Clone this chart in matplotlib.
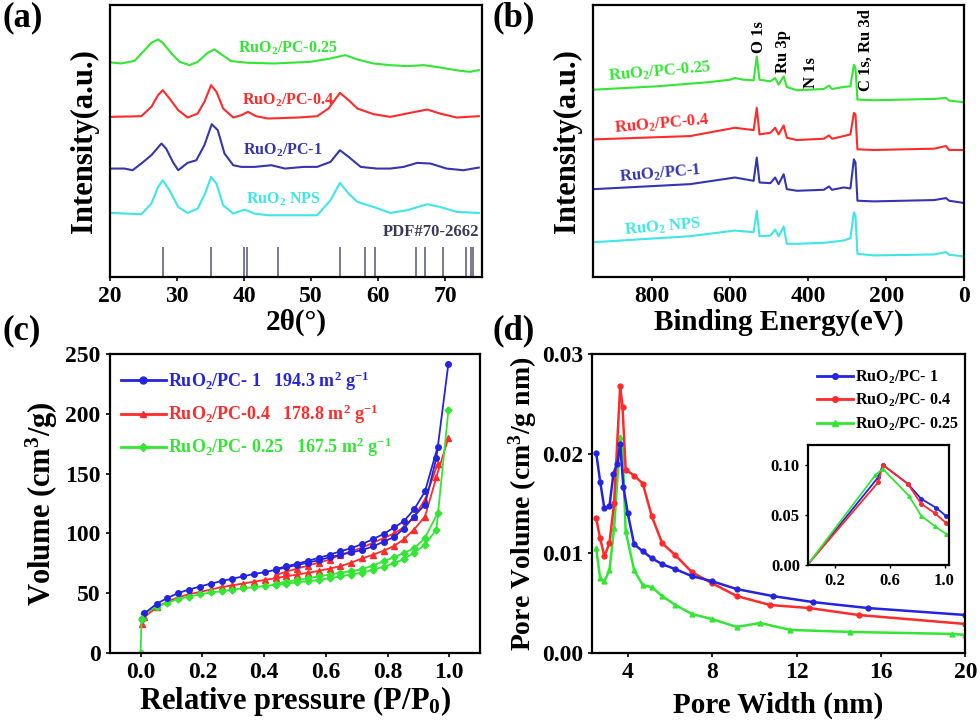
import matplotlib
matplotlib.use("Agg")
import matplotlib.pyplot as plt
from matplotlib.lines import Line2D

plt.rcParams['font.family'] = ['Liberation Serif', 'DejaVu Serif']
plt.rcParams['font.weight'] = 'bold'
plt.rcParams['axes.labelweight'] = 'bold'
plt.rcParams['mathtext.fontset'] = 'custom'
plt.rcParams['mathtext.rm'] = 'Liberation Serif:bold'
plt.rcParams['mathtext.it'] = 'Liberation Serif:bold:italic'
plt.rcParams['mathtext.bf'] = 'Liberation Serif:bold'
plt.rcParams['mathtext.default'] = 'rm'
plt.rcParams['axes.linewidth'] = 1.6
plt.rcParams['lines.solid_joinstyle'] = 'round'

# ---------------- data (a) XRD ----------------
xrd_g_x = [20.2, 21.7, 23.7, 25.2, 26.2, 27.2, 27.9, 29.2, 30.4, 31.9, 33.1, 34.6, 35.6, 36.6, 38.1, 40.6, 44.6, 49.9, 52.9, 55.1, 56.9, 59.3, 61.8, 64.3, 66.8, 69.2, 72.2, 73.7, 75.0]
xrd_g_y = [643, 640, 648, 680, 702, 712, 702, 670, 645, 635, 645, 672, 682, 668, 647, 642, 640, 645, 655, 665, 652, 640, 635, 632, 635, 628, 618, 615, 620]
xrd_r_x = [20.2, 24.7, 26.2, 27.2, 27.9, 28.9, 30.2, 31.6, 33.1, 34.1, 35.1, 35.9, 36.9, 38.4, 39.6, 40.6, 41.8, 43.6, 48.1, 50.9, 52.6, 54.3, 55.6, 56.9, 59.3, 61.8, 64.3, 67.3, 69.2, 71.7, 75.0]
xrd_r_y = [480, 482, 510, 545, 560, 535, 500, 478, 490, 525, 575, 555, 505, 478, 485, 495, 482, 475, 478, 482, 505, 552, 530, 505, 488, 480, 490, 502, 490, 478, 482]
xrd_b_x = [20.2, 22.2, 23.4, 24.7, 26.2, 27.7, 28.4, 29.4, 30.2, 31.6, 32.9, 34.1, 35.2, 36.1, 37.1, 38.4, 39.6, 41.6, 44.1, 46.1, 48.9, 50.9, 52.9, 54.3, 55.6, 57.4, 59.8, 61.8, 63.8, 65.8, 67.8, 70.2, 72.7, 75.0]
xrd_b_y = [325, 325, 320, 340, 365, 400, 385, 345, 320, 342, 350, 395, 458, 440, 370, 335, 330, 330, 335, 325, 330, 330, 345, 380, 360, 330, 325, 325, 330, 342, 340, 325, 320, 328]
xrd_c_x = [20.2, 24.7, 26.2, 27.2, 27.9, 28.9, 30.2, 31.6, 33.1, 34.2, 35.1, 35.9, 36.9, 38.4, 40.1, 41.6, 43.6, 48.1, 50.9, 52.9, 54.3, 55.6, 56.9, 59.3, 61.8, 64.3, 67.3, 69.2, 71.7, 75.0]
xrd_c_y = [192, 188, 220, 270, 290, 260, 210, 192, 205, 250, 300, 280, 215, 190, 202, 190, 185, 185, 185, 230, 282, 250, 225, 210, 192, 200, 218, 210, 195, 192]
pdf_x = [28.0, 35.1, 40.0, 40.5, 45.0, 54.3, 58.0, 59.5, 65.6, 67.0, 69.6, 73.1, 73.8, 74.2]
pdf_h = [90] * len(pdf_x)
xrd_ticks = [20, 30, 40, 50, 60, 70]

# ---------------- data (b) XPS ----------------
xps_g_x = [948, 789, 660, 600, 588, 566, 540, 532, 525, 497, 485, 476, 463, 455, 429, 360, 347, 339, 309, 292, 283, 279, 274, 232, 77, 47, 39, 0]
xps_g_y = [565, 575, 587, 595, 600, 595, 593, 665, 595, 590, 600, 580, 605, 573, 563, 567, 577, 567, 573, 575, 640, 630, 535, 533, 537, 540, 532, 527]
xps_r_x = [948, 703, 588, 540, 532, 525, 497, 485, 476, 463, 455, 429, 360, 347, 339, 309, 292, 283, 279, 274, 232, 77, 47, 39, 0]
xps_r_y = [415, 425, 450, 443, 510, 430, 435, 450, 430, 457, 420, 413, 417, 427, 417, 425, 430, 495, 490, 385, 383, 387, 395, 383, 383]
xps_b_x = [948, 703, 588, 540, 532, 525, 497, 485, 476, 463, 455, 429, 360, 347, 339, 309, 292, 283, 279, 274, 232, 77, 47, 39, 0]
xps_b_y = [265, 280, 300, 290, 360, 285, 283, 300, 280, 310, 265, 260, 263, 273, 263, 270, 267, 355, 345, 230, 228, 232, 238, 230, 223]
xps_c_x = [948, 703, 588, 540, 532, 525, 497, 485, 476, 463, 455, 429, 360, 309, 292, 283, 279, 274, 232, 77, 47, 39, 0]
xps_c_y = [105, 123, 140, 135, 200, 123, 125, 143, 123, 152, 100, 100, 103, 110, 117, 195, 185, 70, 65, 68, 75, 67, 62]
xps_ticks = [800, 600, 400, 200, 0]

# ---------------- data (c) isotherms ----------------
ads_x = [0.003, 0.012, 0.052, 0.087, 0.122, 0.157, 0.193, 0.228, 0.262, 0.297, 0.332, 0.367, 0.402, 0.437, 0.472, 0.507, 0.542, 0.577, 0.612, 0.647, 0.682, 0.717, 0.752, 0.787, 0.822, 0.852, 0.885, 0.921, 0.958, 0.997]
des_x = [0.962, 0.921, 0.886, 0.852, 0.822, 0.787, 0.752, 0.717, 0.682, 0.647, 0.612, 0.577, 0.542, 0.507, 0.472, 0.437]
pc1_ads = [28, 33, 41, 46, 50, 53, 55.5, 58, 60, 62, 64, 66, 67.5, 69.5, 71.5, 73.5, 75.5, 77.5, 80, 82, 84, 86, 89, 93, 97, 104, 114, 124, 163, 242]
pc1_des = [172, 135, 120, 110, 105, 99.5, 95, 91, 87.5, 85, 82, 79.5, 77, 74.5, 72.5, 70]
pc04_ads = [24, 30, 38, 43, 46.5, 49, 51, 53, 55, 56.5, 58, 59.5, 61, 62.5, 64, 65.5, 67, 68.5, 70.5, 72.5, 75.5, 79, 82, 85.5, 89.5, 95, 103, 114, 147, 180]
pc04_des = [158, 128, 114, 105, 100, 96, 92, 88, 85, 82, 78, 75.5, 73, 70.5, 68, 65]
pc025_ads = [28, 33, 38.5, 42, 45, 47, 49, 50.5, 51.5, 53, 54, 55, 56, 57, 58, 59, 60, 61, 62.5, 64, 65.5, 67, 69.5, 72, 75, 78.5, 83.5, 90.5, 103, 203]
pc025_des = [117, 96, 87.5, 83.5, 80, 76.5, 73, 70, 68.5, 67, 65.5, 64, 62.5, 61, 59.5, 58]
bet_labels = ["RuO$_2$/PC- 1   194.3 m$^2$ g$^{-1}$",
              "RuO$_2$/PC-0.4   178.8 m$^2$ g$^{-1}$",
              "RuO$_2$/PC- 0.25   167.5 m$^2$ g$^{-1}$"]
bet_xticks = ['0.0', '0.2', '0.4', '0.6', '0.8', '1.0']
bet_yticks = ['0', '50', '100', '150', '200', '250']

# ---------------- data (d) pore distribution ----------------
psd_b_x = [2.5, 2.69, 2.89, 3.13, 3.32, 3.5, 3.64, 3.79, 4.0, 4.3, 4.71, 5.14, 5.63, 6.26, 7.04, 7.98, 9.17, 10.88, 12.77, 15.37, 20.0]
psd_b_y = [0.0201, 0.0172, 0.0145, 0.0147, 0.018, 0.019, 0.021, 0.0167, 0.014, 0.0109, 0.0102, 0.0095, 0.0089, 0.0084, 0.0077, 0.0072, 0.0064, 0.0057, 0.0051, 0.0045, 0.0038]
psd_r_x = [2.5, 2.69, 2.89, 3.13, 3.35, 3.64, 3.75, 3.9, 4.3, 4.71, 5.14, 5.63, 6.26, 7.04, 7.98, 9.17, 10.75, 12.6, 14.94, 20.0]
psd_r_y = [0.0135, 0.0115, 0.0097, 0.011, 0.015, 0.0268, 0.0247, 0.0184, 0.0178, 0.017, 0.0137, 0.011, 0.0098, 0.0081, 0.007, 0.0057, 0.0048, 0.0045, 0.0038, 0.0029]
psd_g_x = [2.5, 2.69, 2.89, 3.13, 3.35, 3.64, 3.75, 3.9, 4.3, 4.71, 5.14, 5.63, 6.26, 7.04, 7.98, 9.17, 10.28, 11.7, 14.55, 19.37, 20.0]
psd_g_y = [0.0105, 0.0075, 0.0072, 0.0083, 0.0125, 0.0217, 0.0204, 0.0122, 0.0083, 0.0068, 0.0066, 0.0057, 0.0048, 0.0039, 0.0034, 0.0026, 0.003, 0.0023, 0.0021, 0.0019, 0.0018]
ins_b_x = [0.0, 0.515, 0.55, 0.733, 0.83, 0.94, 1.01]
ins_b_y = [0.0, 0.0875, 0.1, 0.081, 0.066, 0.057, 0.049]
ins_r_x = [0.0, 0.515, 0.55, 0.733, 0.83, 0.927, 1.01]
ins_r_y = [0.0, 0.0825, 0.1, 0.081, 0.061, 0.052, 0.042]
ins_g_x = [0.0, 0.496, 0.55, 0.74, 0.83, 0.927, 1.01]
ins_g_y = [0.0, 0.09, 0.096, 0.069, 0.049, 0.039, 0.031]
psd_labels = ["RuO$_2$/PC- 1", "RuO$_2$/PC- 0.4", "RuO$_2$/PC- 0.25"]
psd_xticks = ['4', '8', '12', '16', '20']
psd_yticks = ['0.00', '0.01', '0.02', '0.03']
ins_xticks = ['0.2', '0.6', '1.0']
ins_yticks = ['0.00', '0.05', '0.10']

GREEN = '#33e633'
RED = '#ff2a2a'
NAVY = '#3535b0'
CYAN = '#40e6e6'
BLUE = '#2424e0'

fig = plt.figure(figsize=(9.8, 7.27), dpi=100)

TICK_FS = 17
BOLD = dict(fontweight='bold', family='Liberation Serif')

# ---------- (a) ----------
ax = fig.add_axes([0.112, 0.619, 0.380, 0.374])
lw = 1.5
ax.plot(xrd_g_x, xrd_g_y, color=GREEN, lw=lw)
ax.plot(xrd_r_x, xrd_r_y, color=RED, lw=lw)
ax.plot(xrd_b_x, xrd_b_y, color=NAVY, lw=lw)
ax.plot(xrd_c_x, xrd_c_y, color=CYAN, lw=lw)
ax.vlines(pdf_x, 0, pdf_h, color='#6e6e8e', lw=1.3)
ax.axhline(1, color='#6a6ad0', lw=1.0)
ax.text(75, 112, 'PDF#70-2662', color='#3a3a55', fontsize=12, ha='right', va='bottom')
ax.text(46.6, 685, 'RuO$_2$/PC-0.25', color=GREEN, fontsize=11.5, ha='center', va='center')
ax.text(46.6, 530, 'RuO$_2$/PC-0.4', color=RED, fontsize=11.5, ha='center', va='center')
ax.text(45.8, 380, 'RuO$_2$/PC-1', color=NAVY, fontsize=11.5, ha='center', va='center')
ax.text(45.8, 232, 'RuO$_2$ NPS', color=CYAN, fontsize=11.5, ha='center', va='center')
ax.set_xlim(20, 75.5)
ax.set_ylim(0, 815)
ax.set_xticks(xrd_ticks, [str(t) for t in xrd_ticks], fontsize=TICK_FS, **BOLD)
ax.set_yticks([])
ax.tick_params(axis='x', direction='out', length=3, width=1.2)
ax.set_xlabel('2θ(°)', fontsize=21, labelpad=1)
ax.set_ylabel('Intensity(a.u.)', fontsize=22, labelpad=8)

# ---------- (b) ----------
ax = fig.add_axes([0.605, 0.619, 0.379, 0.374])
ax.plot(xps_g_x, xps_g_y, color=GREEN, lw=lw)
ax.plot(xps_r_x, xps_r_y, color=RED, lw=lw)
ax.plot(xps_b_x, xps_b_y, color=NAVY, lw=lw)
ax.plot(xps_c_x, xps_c_y, color=CYAN, lw=lw)
ax.text(780, 618, 'RuO$_2$/PC-0.25', color=GREEN, fontsize=12, ha='center', va='center', rotation=5)
ax.text(776, 462, 'RuO$_2$/PC-0.4', color=RED, fontsize=12, ha='center', va='center', rotation=5)
ax.text(780, 310, 'RuO$_2$/PC-1', color=NAVY, fontsize=12, ha='center', va='center', rotation=5)
ax.text(772, 152, 'RuO$_2$ NPS', color=CYAN, fontsize=12, ha='center', va='center', rotation=5)
ax.text(527, 723, 'O 1s', rotation=90, fontsize=12, ha='center', va='center', color='black')
ax.text(465, 680, 'Ru 3p', rotation=90, fontsize=12, ha='center', va='center', color='black')
ax.text(394, 617, 'N 1s', rotation=90, fontsize=12, ha='center', va='center', color='black')
ax.text(253, 685, 'C 1s, Ru 3d', rotation=90, fontsize=12, ha='center', va='center', color='black')
ax.set_xlim(952, 0)
ax.set_ylim(0, 820)
ax.set_xticks(xps_ticks, [str(t) for t in xps_ticks], fontsize=TICK_FS, **BOLD)
ax.set_yticks([])
ax.tick_params(axis='x', direction='out', length=3, width=1.2)
ax.set_xlabel('Binding Energy(eV)', fontsize=21, labelpad=1)
ax.set_ylabel('Intensity(a.u.)', fontsize=22, labelpad=8)

# ---------- (c) ----------
ax = fig.add_axes([0.112, 0.102, 0.378, 0.411])
series_c = [(pc04_ads, pc04_des, RED, '^'), (pc025_ads, pc025_des, GREEN, 'D'), (pc1_ads, pc1_des, BLUE, 'o')]
for ads, des, col, mk in series_c:
    ms = 3.5 if mk == 'D' else 4
    ax.plot(ads_x, ads, color=col, marker=mk, ms=ms, lw=1.3)
    ax.plot(des_x, des, color=col, marker=mk, ms=ms, lw=1.3)
ax.plot([0.0, ads_x[0]], [0, pc025_ads[0]], color=GREEN, marker='D', ms=3.5, lw=1.3)
leg_handles = [Line2D([], [], color=BLUE, marker='o', ms=5, lw=2),
               Line2D([], [], color=RED, marker='^', ms=5, lw=2),
               Line2D([], [], color=GREEN, marker='D', ms=4.5, lw=2)]
leg = ax.legend(leg_handles, bet_labels, loc='upper left', frameon=False, fontsize=13,
                handlelength=2.5, handletextpad=0.1, labelspacing=0.55,
                borderaxespad=0.2, bbox_to_anchor=(0.0, 0.985))
for t, c in zip(leg.get_texts(), [BLUE, RED, GREEN]):
    t.set_color(c)
ax.set_xlim(-0.1, 1.1)
ax.set_ylim(0, 250)
ax.set_xticks([float(t) for t in bet_xticks], bet_xticks, fontsize=TICK_FS, **BOLD)
ax.set_yticks([float(t) for t in bet_yticks], bet_yticks, fontsize=TICK_FS, **BOLD)
ax.tick_params(direction='out', length=3, width=1.2)
ax.set_xlabel('Relative pressure (P/P$_0$)', fontsize=22, labelpad=1)
ax.set_ylabel('Volume (cm$^3$/g)', fontsize=22, labelpad=4)

# ---------- (d) ----------
ax = fig.add_axes([0.604, 0.102, 0.381, 0.411])
ax.plot(psd_g_x, psd_g_y, color=GREEN, marker='^', ms=3.5, lw=1.8)
ax.plot(psd_r_x, psd_r_y, color=RED, marker='o', ms=3.5, lw=1.8)
ax.plot(psd_b_x, psd_b_y, color=BLUE, marker='o', ms=3.5, lw=1.8)
h = [Line2D([], [], color=BLUE, marker='o', ms=4, lw=2),
     Line2D([], [], color=RED, marker='o', ms=4, lw=2),
     Line2D([], [], color=GREEN, marker='^', ms=4, lw=2)]
ax.legend(h, psd_labels, loc='upper right', frameon=False, fontsize=11.5,
          handlelength=2.3, handletextpad=0.1, labelspacing=0.4,
          borderaxespad=0.3, bbox_to_anchor=(1.012, 0.99))
ax.set_xlim(2.3, 20)
ax.set_ylim(0, 0.03)
ax.set_xticks([float(t) for t in psd_xticks], psd_xticks, fontsize=TICK_FS, **BOLD)
ax.set_yticks([float(t) for t in psd_yticks], psd_yticks, fontsize=TICK_FS, **BOLD)
ax.tick_params(direction='out', length=3, width=1.2)
ax.set_xlabel('Pore Width (nm)', fontsize=21, labelpad=6)
ax.set_ylabel('Pore Volume (cm$^3$/g nm)', fontsize=20, labelpad=2)

ins = fig.add_axes([0.824, 0.223, 0.144, 0.165])
ins.plot(ins_b_x, ins_b_y, color=BLUE, marker='o', ms=2.5, lw=1.3)
ins.plot(ins_r_x, ins_r_y, color=RED, marker='o', ms=2.5, lw=1.3)
ins.plot(ins_g_x, ins_g_y, color=GREEN, marker='^', ms=2.5, lw=1.3)
ins.set_xlim(0.0, 1.03)
ins.set_ylim(0, 0.12)
ins.set_xticks([float(t) for t in ins_xticks], ins_xticks, fontsize=12, **BOLD)
ins.set_yticks([float(t) for t in ins_yticks], ins_yticks, fontsize=12, **BOLD)
ins.tick_params(direction='out', length=2, width=1)

# panel labels
for lbl, x, y in [('(a)', 0.003, 0.998), ('(b)', 0.503, 0.998), ('(c)', 0.003, 0.568), ('(d)', 0.503, 0.568)]:
    fig.text(x, y, lbl, fontsize=25, ha='left', va='top')

fig.savefig('out.png', dpi=100)
